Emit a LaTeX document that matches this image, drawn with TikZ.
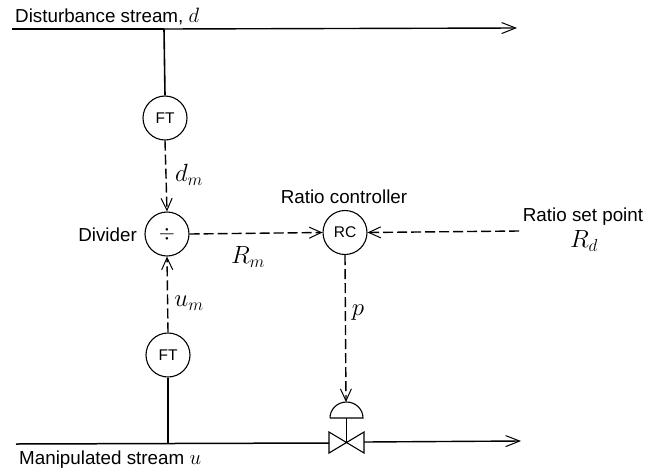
\documentclass[tikz,border=0pt]{standalone}
\usepackage{fontspec}
\setmainfont{Liberation Sans}
\usetikzlibrary{arrows.meta}
\tikzset{
  inst/.style={circle,draw,line width=1.1pt,minimum size=44pt,inner sep=0pt,font=\fontsize{15.5}{16}\selectfont},
  lab/.style={inner sep=0pt,font=\fontsize{18.8}{20}\selectfont},
  sym/.style={inner sep=0pt,font=\fontsize{23}{23}\selectfont},
  flow/.style={line width=1.4pt,-{Straight Barb[length=14pt,width=11pt,line width=1pt]}},
  tap/.style={line width=1.6pt},
  signal/.style={line width=1.4pt,dash pattern=on 10pt off 4pt,-{Straight Barb[length=12pt,width=11pt,line width=1pt]}},
}
\begin{document}
\begin{tikzpicture}[x=1pt,y=-1pt]
\useasboundingbox (0,0) rectangle (648,472);
\fill[white] (0,0) rectangle (648,472);
% streams
\coordinate (ds) at (12,29);
\coordinate (de) at (517,28);
\coordinate (dt) at (164,29);
\coordinate (ms) at (16,444);
\coordinate (mt) at (168,444);
\coordinate (me) at (521,441);
% instruments
\node[inst] (ft1) at (165,118) {FT};
\node[inst] (div) at (167,234) {\fontsize{21}{21}\selectfont$\div$};
\node[inst] (ft2) at (168,355) {FT};
\node[inst] (rc) at (345,232.5) {RC};
% valve
\coordinate (v) at (346.5,443);
\coordinate (vl) at (329,443);
\coordinate (vr) at (364,442);
\coordinate (act) at (346,402);
\coordinate (setp) at (519,231);
\draw[line width=1.5pt] (ds) -- (dt);
\draw[flow] (dt) -- (de);
\draw[tap] (dt) -- (ft1.north);
\draw[tap] (ft2.south) -- (mt);
\draw[line width=1.5pt] (ms) -- (vl);
\draw[flow] (vr) -- (me);
\draw[line width=1.1pt] (329,432) -- (364,453) -- (364,432) -- (329,453) -- cycle;
\draw[line width=1.1pt] (v) -- (346.5,418);
\draw[line width=1.1pt] (330,418) -- (363,418) arc[start angle=0,end angle=180,x radius=16.5pt,y radius=16pt];
% signals
\draw[signal] (ft1.south) -- (div.north);
\draw[signal] (ft2.north) -- (div.south);
\draw[signal] (div.east) -- (rc.west);
\draw[signal] (setp) -- (rc.east);
\draw[signal] (rc.south) -- (act);
% labels
\node[lab,anchor=west] (t1) at (15,16) {Disturbance stream, \fontsize{22}{22}\selectfont$d$};
\node[lab,anchor=west] (t2) at (19,460) {Manipulated stream \fontsize{22}{22}\selectfont$u$};
\node[lab,anchor=east] (t3) at (137,235) {Divider};
\node[lab] (t4) at (344,197) {Ratio controller};
\node[lab] (t5) at (583,217) {Ratio set point};
\node[sym] (t6) at (584,241) {$R_d$};
\node[sym] (t7) at (189,175) {$d_m$};
\node[sym] (t8) at (248,257) {$R_m$};
\node[sym] (t9) at (189,303) {$u_m$};
\node[sym] (t10) at (358,313) {$p$};
\end{tikzpicture}
\end{document}
